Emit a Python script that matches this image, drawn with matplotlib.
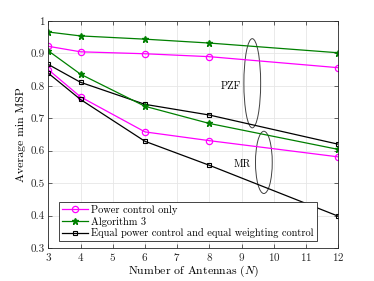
import matplotlib
matplotlib.use("Agg")
import matplotlib.pyplot as plt
from matplotlib.patches import Ellipse

antennas = [3, 4, 6, 8, 12]
pzf_power = [0.922, 0.905, 0.899, 0.890, 0.856]
pzf_alg3 = [0.966, 0.954, 0.944, 0.932, 0.902]
pzf_equal = [0.866, 0.811, 0.743, 0.710, 0.620]
mr_power = [0.850, 0.766, 0.658, 0.631, 0.581]
mr_alg3 = [0.908, 0.836, 0.737, 0.684, 0.604]
mr_equal = [0.839, 0.758, 0.629, 0.555, 0.398]
labels = ["Power control only", "Algorithm 3", "Equal power control and equal weighting control"]

plt.rcParams['font.family'] = ['cmr10', 'DejaVu Serif']
plt.rcParams['mathtext.fontset'] = 'cm'
plt.rcParams['axes.formatter.use_mathtext'] = True

fig = plt.figure(figsize=(3.74, 2.81), dpi=100)
ax = fig.add_axes([48.3/374, 1-248/281, (338.3-48.3)/374, (248-21)/281])

mag = '#FF00FF'
grn = '#008000'
blk = '#000000'
ax.plot(antennas, pzf_power, color=mag, marker='o', mfc='none', ms=4.5, mew=0.9, lw=0.9, label=labels[0])
ax.plot(antennas, pzf_alg3, color=grn, marker='*', ms=4.5, lw=0.9, label=labels[1])
ax.plot(antennas, pzf_equal, color=blk, marker='s', mfc='none', ms=3.3, mew=0.8, lw=0.9, label=labels[2])
ax.plot(antennas, mr_power, color=mag, marker='o', mfc='none', ms=4.5, mew=0.9, lw=0.9)
ax.plot(antennas, mr_alg3, color=grn, marker='*', ms=4.5, lw=0.9)
ax.plot(antennas, mr_equal, color=blk, marker='s', mfc='none', ms=3.3, mew=0.8, lw=0.9)

ax.add_patch(Ellipse((9.33, 0.808), 0.52, 0.275, fill=False, ec='#404040', lw=0.7))
ax.add_patch(Ellipse((9.69, 0.564), 0.52, 0.192, fill=False, ec='#404040', lw=0.7))
ax.text(8.98, 0.80, 'PZF', ha='right', va='center', fontsize=7.5)
ax.text(9.03, 0.558, 'MR', ha='center', va='center', fontsize=7.5)

ax.set_xlim(3, 12)
ax.set_ylim(0.3, 1.0)
ax.set_xticks(range(3, 13))
ax.set_yticks([0.3, 0.4, 0.5, 0.6, 0.7, 0.8, 0.9, 1.0])
ax.set_yticklabels(['0.3', '0.4', '0.5', '0.6', '0.7', '0.8', '0.9', '1'])
ax.grid(True, color='#e6e6e6', lw=0.6)
ax.set_axisbelow(True)
ax.tick_params(direction='in', top=True, right=True, labelsize=8, length=3, width=0.5, colors='#262626', pad=2.5)
for s in ax.spines.values():
    s.set_color('#262626')
    s.set_linewidth(0.6)
ax.set_xlabel('Number of Antennas $(N)$', fontsize=8.5, labelpad=0.5)
ax.set_ylabel('Average min MSP', fontsize=8.5, labelpad=3)

leg = ax.legend(loc='lower left', bbox_to_anchor=(0.03, 0.02), fontsize=7.5, frameon=True, fancybox=False,
                edgecolor='#262626', framealpha=1, handlelength=2.5, handletextpad=0.3,
                borderpad=0.3, labelspacing=0.15, borderaxespad=0.2)
leg.get_frame().set_linewidth(0.6)

fig.savefig('out.png', dpi=100)
